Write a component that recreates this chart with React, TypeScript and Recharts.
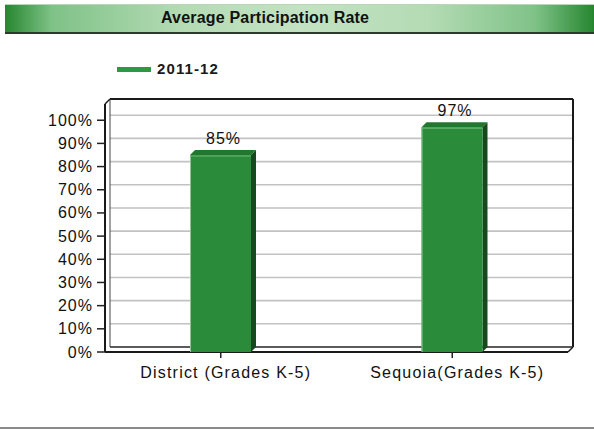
import React from 'react'
import { BarChart, Bar, XAxis, YAxis, CartesianGrid, LabelList, Customized } from 'recharts'

const categories = ['District (Grades K-5)', 'Sequoia(Grades K-5)']
const rates = [85, 97]
const seriesName = '2011-12'
const yTicks = [0, 10, 20, 30, 40, 50, 60, 70, 80, 90, 100]

const data = categories.map((name, i) => ({ name, rate: rates[i] }))

// back plane of the 3d box, front is shifted by DEPTH left/down
const L = 110
const R = 573
const T = 99
const B = 347
const DEPTH = 5
const W = 594
const H = 430

const font = '"Liberation Sans", Arial, sans-serif'

function Bar3D(props: any) {
  const { x, y, width, height } = props
  const fx = x - DEPTH
  const fy = y + DEPTH
  return (
    <g>
      <polygon
        points={`${fx},${fy} ${x},${y} ${x + width},${y} ${fx + width},${fy}`}
        fill="#22772f"
      />
      <polygon
        points={`${fx + width},${fy} ${x + width},${y} ${x + width},${y + height} ${fx + width},${fy + height}`}
        fill="#164a1e"
      />
      <rect x={fx} y={fy} width={width} height={height} fill="#2a8c3b" />
      <line x1={fx + 0.5} y1={fy} x2={fx + 0.5} y2={fy + height} stroke="#8cc894" strokeWidth={1} />
      <line x1={fx} y1={fy + 1} x2={fx + width} y2={fy + 1} stroke="#6fb878" strokeWidth={1} />
    </g>
  )
}

function ValueLabel(props: any) {
  const { x, y, width, value } = props
  return (
    <text
      x={x + width / 2 - 2}
      y={y - 6}
      textAnchor="middle"
      fontFamily={font}
      fontSize={16}
      letterSpacing={1}
      fill="#111"
    >
      {value}%
    </text>
  )
}

function YTick(props: any) {
  const { y, payload } = props
  const fy = y + DEPTH
  return (
    <g>
      <line x1={L - DEPTH - 8} y1={fy} x2={L - DEPTH} y2={fy} stroke="#222" strokeWidth={1.5} />
      <text
        x={93}
        y={fy}
        textAnchor="end"
        dominantBaseline="central"
        fontFamily={font}
        fontSize={16}
        letterSpacing={1}
        fill="#111"
      >
        {payload.value}%
      </text>
    </g>
  )
}

function XTick(props: any) {
  const { x, payload } = props
  const fx = x - DEPTH
  return (
    <g>
      <line x1={fx} y1={B + DEPTH} x2={fx} y2={B + DEPTH + 6} stroke="#222" strokeWidth={1.5} />
      <text
        x={fx + 5}
        y={378}
        textAnchor="middle"
        fontFamily={font}
        fontSize={16}
        letterSpacing={1.2}
        fill="#111"
      >
        {payload.value}
      </text>
    </g>
  )
}

function Frame() {
  const c = '#1a1a1a'
  return (
    <g fill="none">
      <line x1={L} y1={T} x2={R} y2={T} stroke={c} strokeWidth={2} />
      <line x1={R} y1={T} x2={R} y2={B} stroke={c} strokeWidth={2} />
      <line x1={L} y1={T} x2={L} y2={B} stroke="#444" strokeWidth={1} />
      <line x1={L} y1={B} x2={R} y2={B} stroke="#333" strokeWidth={1.5} />
      <line x1={L - DEPTH} y1={T + DEPTH} x2={L - DEPTH} y2={B + DEPTH} stroke={c} strokeWidth={2} />
      <line x1={L - DEPTH} y1={T + DEPTH} x2={L} y2={T} stroke={c} strokeWidth={1.5} />
      <line x1={L - DEPTH} y1={B + DEPTH} x2={R - DEPTH} y2={B + DEPTH} stroke={c} strokeWidth={2} />
      <line x1={R - DEPTH} y1={B + DEPTH} x2={R} y2={B} stroke={c} strokeWidth={1.5} />
    </g>
  )
}

export default function App() {
  return (
    <div style={{ position: 'absolute', left: 0, top: 0, width: W, height: H, background: '#fff', overflow: 'hidden' }}>
      <div
        style={{
          position: 'absolute',
          left: 5,
          top: 4,
          width: W - 5,
          height: 27,
          borderTop: '1px solid #b9d6b9',
          borderBottom: '2px solid #2c3a2c',
          background: 'linear-gradient(to right, #26862f 0%, #7fc287 8%, #b4dbb4 30%, #c3e2c3 50%, #b4dbb4 72%, #7fc287 90%, #26862f 100%)',
        }}
      >
        <div
          style={{
            position: 'absolute',
            left: 155,
            width: 210,
            top: 4,
            textAlign: 'center',
            fontFamily: font,
            fontWeight: 'bold',
            fontSize: 16,
            letterSpacing: 0.2,
            color: '#111',
            whiteSpace: 'nowrap',
          }}
        >
          Average Participation Rate
        </div>
      </div>

      <div style={{ position: 'absolute', left: 117, top: 67, width: 34, height: 5, background: '#2e9a40' }} />
      <div
        style={{
          position: 'absolute',
          left: 157,
          top: 60,
          fontFamily: font,
          fontWeight: 'bold',
          fontSize: 15,
          letterSpacing: 1.1,
          color: '#1a1a1a',
        }}
      >
        {seriesName}
      </div>

      <div style={{ position: 'absolute', left: 0, top: 0 }}>
        <BarChart width={W} height={H} data={data} margin={{ top: T, right: W - R, left: 0, bottom: 0 }}>
          <CartesianGrid vertical={false} stroke="#c2c2c2" strokeWidth={1.6} />
          <XAxis
            dataKey="name"
            height={H - B}
            interval={0}
            axisLine={false}
            tickLine={false}
            tick={<XTick />}
          />
          <YAxis
            width={L}
            domain={[0, 107]}
            ticks={yTicks}
            axisLine={false}
            tickLine={false}
            tick={<YTick />}
          />
          <Bar dataKey="rate" barSize={61} shape={<Bar3D />} isAnimationActive={false}>
            <LabelList dataKey="rate" content={<ValueLabel />} />
          </Bar>
          <Customized component={<Frame />} />
        </BarChart>
      </div>

      <div style={{ position: 'absolute', left: 0, top: 427, width: W, height: 2, background: '#8a8a8a' }} />
    </div>
  )
}
